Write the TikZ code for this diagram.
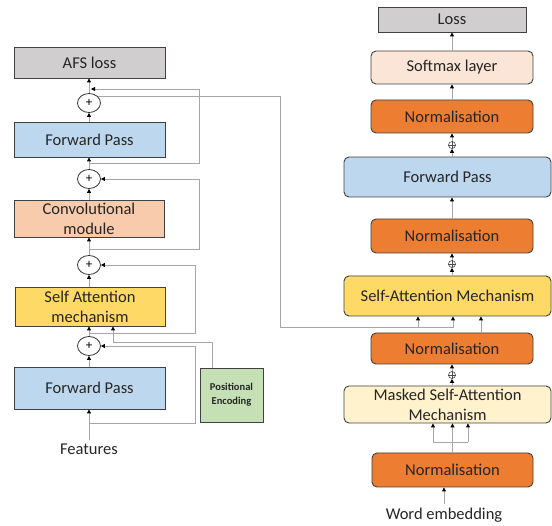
\documentclass[tikz,border=0pt]{standalone}
\usepackage{fontspec}
\setmainfont{Carlito}
\usetikzlibrary{arrows.meta,shapes.geometric,calc}
\definecolor{bordc}{HTML}{404040}
\definecolor{linec}{HTML}{A6A6A6}
\definecolor{grayf}{HTML}{D0CECE}
\definecolor{bluef}{HTML}{BDD7EE}
\definecolor{convf}{HTML}{F8CBAD}
\definecolor{yelf}{HTML}{FFD966}
\definecolor{greenf}{HTML}{C5E0B4}
\definecolor{softf}{HTML}{FBE5D6}
\definecolor{normf}{HTML}{ED7D31}
\definecolor{maskf}{HTML}{FFF2CC}
\begin{document}
\begin{tikzpicture}[x=1pt,y=-1pt,
  box/.style={draw=bordc,line width=0.9pt,inner sep=0pt,align=center,text=black!85,
    font=\fontsize{16.5}{20}\selectfont},
  rbox/.style={box,rounded corners=5pt},
  plusc/.style={draw=black!80,line width=0.8pt,ellipse,minimum width=23pt,minimum height=19pt,inner sep=0pt,font=\fontsize{13}{13}\selectfont},
  oplus/.style={draw=black!70,line width=0.6pt,circle,minimum size=7pt,inner sep=0pt},
  conn/.style={draw=linec,line width=0.9pt},
  arr/.style={conn,-{Triangle[length=4pt,width=4pt,color=black]}},
  lbl/.style={font=\fontsize{16.5}{20}\selectfont,text=black!85}
]
\useasboundingbox (0,0) rectangle (552,526);

% ---------- left column ----------
\node[box,fill=grayf,minimum width=151pt,minimum height=31pt] (afs) at (89.5,62.5) {AFS loss};
\node[box,fill=bluef,minimum width=151pt,minimum height=35pt] (fp1) at (89.5,139.5) {Forward Pass};
\node[box,fill=convf,minimum width=150pt,minimum height=37pt] (conv) at (89,218.5) {Convolutional\\module};
\node[box,fill=yelf,minimum width=150pt,minimum height=39pt] (sa) at (90,306.5) {Self Attention\\mechanism};
\node[box,fill=bluef,minimum width=151pt,minimum height=42pt] (fp2) at (89.5,388) {Forward Pass};
\node[box,fill=greenf,minimum width=63pt,minimum height=54pt,font=\fontsize{10.5}{14}\selectfont\bfseries] (pe) at (231.5,395) {Positional\\Encoding};
\node[plusc] (c1) at (89,103) {+};
\node[plusc] (c2) at (89,179) {+};
\node[plusc] (c3) at (89,265) {+};
\node[plusc] (c4) at (89,346) {+};
\node[lbl] (feat) at (89,449) {Features};

\coordinate (xs) at (195,0);
\coordinate (xs2) at (199,0);
\coordinate (xpe) at (212,0);
\coordinate (s1a) at (89,423);
\coordinate (s2a) at (89,333);
\coordinate (s3a) at (89,249);
\coordinate (s4a) at (89,163);
\coordinate (s4e) at (91,89);
\coordinate (pk) at (113,342);

\draw[arr] (feat.north) -- (feat.north |- fp2.south);
\draw[arr] (c4.north |- fp2.north) -- (c4.south);
\draw[arr] (c4.north) -- (c4.north |- sa.south);
\draw[arr] (c3.south |- sa.north) -- (c3.south);
\draw[arr] (c3.north) -- (c3.north |- conv.south);
\draw[arr] (c2.south |- conv.north) -- (c2.south);
\draw[arr] (c2.north) -- (c2.north |- fp1.south);
\draw[arr] (c1.south |- fp1.north) -- (c1.south);
\draw[arr] (c1.north) -- (c1.north |- afs.south);

\draw[arr] (s1a) -- (s1a -| xs) |- (c4.east);
\draw[arr] (s2a) -- (s2a -| xs) |- (c3.east);
\draw[arr] (s3a) -- (s3a -| xs2) |- (c2.east);
\draw[arr] (s4a) -- (s4a -| xs2) |- (s4e);
\draw[arr] (pe.north -| xpe) |- (pk) -- (pk |- sa.south);

% ---------- right column ----------
\node[box,fill=grayf,minimum width=148pt,minimum height=25pt] (loss) at (452,19.5) {Loss};
\node[rbox,fill=softf,minimum width=162pt,minimum height=33pt] (soft) at (452,67.5) {Softmax layer};
\node[rbox,fill=normf,minimum width=162pt,minimum height=33pt] (n1) at (452,116.5) {Normalisation};
\node[rbox,fill=bluef,minimum width=207pt,minimum height=40pt] (fpr) at (447.5,177) {Forward Pass};
\node[rbox,fill=normf,minimum width=162pt,minimum height=34pt] (n2) at (452,236) {Normalisation};
\node[rbox,fill=yelf,minimum width=207pt,minimum height=40pt] (sar) at (447.5,296) {Self-Attention Mechanism};
\node[rbox,fill=normf,minimum width=162pt,minimum height=31pt] (n3) at (452,348.5) {Normalisation};
\node[rbox,fill=maskf,minimum width=207pt,minimum height=37pt] (msa) at (447.5,404.5) {Masked Self-Attention\\Mechanism};
\node[rbox,fill=normf,minimum width=161pt,minimum height=34pt] (n4) at (452.5,470) {Normalisation};
\node[lbl] (word) at (444,515) {Word embedding};

\node[oplus] (p1) at (452,145) {};
\node[oplus] (p2) at (452,264) {};
\node[oplus] (p3) at (452,375) {};
\foreach \p in {p1,p2,p3}{
  \draw[black!70,line width=0.6pt] (\p.north) -- (\p.south) (\p.west) -- (\p.east);
}

\draw[arr] (soft.north) -- (soft.north |- loss.south);
\draw[arr] (n1.north) -- (n1.north |- soft.south);
\draw[arr] (p1.north) -- (p1.north |- n1.south);
\draw[arr] (p1.south |- fpr.north) -- (p1.south);
\draw[arr] (n2.north) -- (n2.north |- fpr.south);
\draw[arr] (p2.north) -- (p2.north |- n2.south);
\draw[arr] (p2.south |- sar.north) -- (p2.south);
\draw[arr] (p3.north) -- (p3.north |- n3.south);
\draw[arr] (p3.south |- msa.north) -- (p3.south);

\coordinate (x481) at (481,0);
\draw[arr] (n3.north -| x481) -- (sar.south -| x481);

\coordinate (ml) at (433,442);
\coordinate (mr) at (468,442);
\draw[arr] (n4.north) -- (n4.north |- msa.south);
\draw[conn] (ml) -- (mr);
\draw[arr] (ml) -- (ml |- msa.south);
\draw[arr] (mr) -- (mr |- msa.south);

\draw[arr] (word.north) -- (word.north |- n4.south);

% encoder output to decoder
\coordinate (e2) at (280,327);
\coordinate (sk) at (453,327);
\coordinate (b1) at (418,327);
\draw[arr] (c1.35) -| (e2) -- (sk) -- (sk |- sar.south);
\draw[arr] (b1) -- (b1 |- sar.south);
\end{tikzpicture}
\end{document}
